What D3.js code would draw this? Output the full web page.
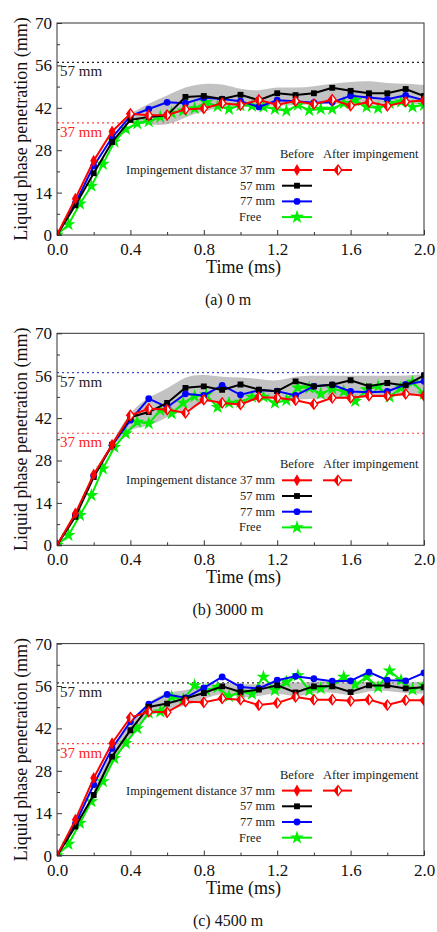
<!DOCTYPE html>
<html>
<head>
<meta charset="utf-8">
<script src="https://cdn.jsdelivr.net/npm/d3@7"></script>
<style>
body { margin: 0; background: #fff; }
svg { display: block; font-family: "Liberation Serif", "Times New Roman", serif; }
</style>
</head>
<body>
<div id="chart"></div>
<script>
// sampling times (ms)
const time10 = [0,0.1,0.2,0.3,0.4,0.5,0.6,0.7,0.8,0.9,1.0,1.1,1.2,1.3,1.4,1.5,1.6,1.7,1.8,1.9,2.0]
const timeFree = [0,0.0625,0.125,0.1875,0.25,0.3125,0.375,0.4375,0.5,0.5625,0.625,0.6875,0.75,0.8125,0.875,0.9375,1,
  1.0625,1.125,1.1875,1.25,1.3125,1.375,1.4375,1.5,1.5625,1.625,1.6875,1.75,1.8125,1.875,1.9375,2]

// (a) 0 m
const red0 = [0,12,24.5,34.2,40,39.5,39.6,41.5,41.8,43.5,42.9,44.6,43,44.2,43.2,44.7,42.7,43.9,42.6,44,44.4]
const black0 = [0,9.8,20.4,30.7,38,39,39.5,45.6,45.9,44.9,46.3,44.5,46.8,46.2,46.8,48.6,47.6,46.8,46.8,48.2,45.9]
const blue0 = [0,10.5,22.8,32.2,39.3,41.6,43.8,43.5,45.3,44.9,44.2,42.3,44.5,44.2,43.7,43.8,46,45.4,44.8,46.1,44.5]
const free0 = [0,3.5,10.3,16.2,23.4,30.8,35,36.8,37.5,39,40.3,41,41.8,43.8,42.5,41.6,42.8,
  42.6,42.3,41.6,41,42.9,41.2,41.6,41.6,43.5,44.5,42.3,41.9,43.5,44,42.3,42.9]
const bandT0 = [0.4,0.5,0.6,0.7,0.8,0.9,1.0,1.1,1.2,1.3,1.4,1.5,1.6,1.7,1.8,1.9,2.0]
const bandHi0 = [40,43.5,46,49,50,50,48,47.5,49,48.5,49,50,50.5,51,50,50,49.5]
const bandLo0 = [38.5,36.5,36,39,41,42,42.5,43,42.5,43,43,43.5,43,43,43,43.5,43]

// (b) 3000 m
const red1 = [0,10.5,23.4,33.2,42.9,45.1,44.8,43.7,48.1,47,46.5,48.9,48.7,47.9,46.6,48.7,48.7,49.4,49.3,50,49.4]
const black1 = [0,9.4,22.5,33.2,42.3,44,47,52,52.5,51.3,53.1,51.4,50.9,54.1,52.5,53,54.5,52.5,53.6,52.8,56.1]
const blue1 = [0,10,23,33,41.3,48.4,45.6,50,49.5,52.8,49.7,51.2,50.9,49.5,52.5,53,50.8,50.5,50.8,53.1,54.2]
const free1 = [0,3.3,9.9,16.5,25.3,32.4,36.9,40.7,40.2,44.6,43.5,47,49.2,49.7,45.6,47,47.3,
  49,49,47,47.9,52,52,50,51.7,50.8,47.6,51.4,52.5,49,52,53.9,50]
const bandT1 = [0.3,0.4,0.5,0.6,0.7,0.8,0.9,1.0,1.1,1.2,1.3,1.4,1.5,1.6,1.7,1.8,1.9,2.0]
const bandHi1 = [34,44.5,49,51.5,56,56.5,55.5,55.5,55,54,56,56,56,56,56,56,56,56.5]
const bandLo1 = [32.5,39,39,42.5,44.5,47.5,47.5,47,48.5,48.5,48,48.5,48.5,48.5,49,49,49.5,49.5]

// (c) 4500 m
const red2 = [0,11.8,25.6,37.1,45.6,47.5,47.3,50.8,50.6,51.9,51.5,49.7,50.4,52.4,51.5,51.5,51.1,51.5,49.7,51.3,51.3]
const black2 = [0,9.6,20,32.7,41.4,49.1,50.2,51.9,53.7,55.9,54,54.8,56.2,53.9,55.9,55.9,54,56.2,56.2,55.2,55.6]
const blue2 = [0,10.5,23.4,35.4,44.2,50,53.2,52.1,55.4,59,55.7,55.2,57.9,59.2,58.4,57.6,57.7,60.6,57.9,57.7,60.3]
const free2 = [0,3.8,10.7,17.9,24.5,32.1,37.1,42,47.1,47.5,52.4,51.5,56.2,54.6,55.6,52.6,54,
  53.4,59,54.6,57.3,59.5,54.5,55.2,56.5,59,56.5,59,55.6,61,57.9,54.8,56.2]
const bandT2 = [0.2,0.3,0.4,0.5,0.6,0.7,0.8,0.9,1.0,1.1,1.2,1.3,1.4,1.5,1.6,1.7,1.8,1.9,2.0]
const bandHi2 = [22,35,44,51,54,54.5,56,57.5,56.5,56.5,57.5,57,57.5,57.5,57,57.5,57.5,57,57.5]
const bandLo2 = [18,30.5,39,47,48,49.5,51.5,54,52,52.5,54,52,54,54,52.5,54.5,54.5,53.5,53.5]

const captions = ["(a) 0 m", "(b) 3000 m", "(c) 4500 m"]
const refLines = [37, 57]
const yTicks = [0,14,28,42,56,70]
const xTicks = [0,0.4,0.8,1.2,1.6,2.0]
const impingeTime = 0.3   // last "before impingement" point for 37 mm

const panels = [
  {red: red0, black: black0, blue: blue0, free: free0, bt: bandT0, hi: bandHi0, lo: bandLo0, ref57: "#222"},
  {red: red1, black: black1, blue: blue1, free: free1, bt: bandT1, hi: bandHi1, lo: bandLo1, ref57: "#4a4ad0"},
  {red: red2, black: black2, blue: blue2, free: free2, bt: bandT2, hi: bandHi2, lo: bandLo2, ref57: "#222"}
]

const W = 437, H = 932
const margin = {left: 57, top: 23}
const width = 367, height = 212
const step = 310.3

const svg = d3.select("#chart").append("svg")
  .attr("width", W).attr("height", H)

const x = d3.scaleLinear().domain([0, 2]).range([0, width])
const y = d3.scaleLinear().domain([0, 70]).range([height, 0])

const line = d3.line().x(d => x(d[0])).y(d => y(d[1]))
const area = d3.area().curve(d3.curveBasis)
  .x(d => x(d[0])).y0(d => y(d[1])).y1(d => y(d[2]))

const sym = {
  diamond: d3.symbol().type(d3.symbolDiamond).size(42),
  square: d3.symbol().type(d3.symbolSquare).size(34),
  circle: d3.symbol().type(d3.symbolCircle).size(36),
  star: d3.symbol().type(d3.symbolStar).size(60)
}

// open diamond with red left half
function afterMarker(g, cx, cy) {
  const r = 5
  g.append("path")
    .attr("d", `M${cx},${cy-r}L${cx+r*0.75},${cy}L${cx},${cy+r}L${cx-r*0.75},${cy}Z`)
    .attr("fill", "#fff").attr("stroke", "#f00").attr("stroke-width", 1.3)
  g.append("path")
    .attr("d", `M${cx},${cy-r}L${cx},${cy+r}L${cx-r*0.75},${cy}Z`)
    .attr("fill", "#f00")
}

panels.forEach((p, i) => {
  const top = margin.top + i * step
  const g = svg.append("g").attr("transform", `translate(${margin.left},${top})`)

  g.append("clipPath").attr("id", "clip" + i)
    .append("rect").attr("width", width).attr("height", height)
  const plot = g.append("g").attr("clip-path", `url(#clip${i})`)

  // reference distances
  plot.append("line")
    .attr("x1", 0).attr("x2", width).attr("y1", y(refLines[0])).attr("y2", y(refLines[0]))
    .attr("stroke", "#f44").attr("stroke-width", 1.2).attr("stroke-dasharray", "2,3")
  plot.append("line")
    .attr("x1", 0).attr("x2", width).attr("y1", y(refLines[1])).attr("y2", y(refLines[1]))
    .attr("stroke", p.ref57).attr("stroke-width", 1.2).attr("stroke-dasharray", "2,3")
  g.append("text").attr("x", 3).attr("y", y(refLines[1]) + 14)
    .attr("font-size", 15).attr("fill", "#222").text("57 mm")
  g.append("text").attr("x", 3).attr("y", y(refLines[0]) + 14)
    .attr("font-size", 15).attr("fill", "#f22").text("37 mm")

  // scatter band
  plot.append("path")
    .datum(p.bt.map((t, k) => [t, p.lo[k], p.hi[k]]))
    .attr("d", area)
    .attr("fill", "#a8a8a8").attr("opacity", 0.7)

  const series = [
    {vals: p.free, ts: timeFree, color: "#00ee00", shape: "star"},
    {vals: p.blue, ts: time10, color: "#0000ff", shape: "circle"},
    {vals: p.black, ts: time10, color: "#000", shape: "square"},
    {vals: p.red, ts: time10, color: "#ff0000", shape: "diamond"}
  ]
  series.forEach(s => {
    const pts = s.vals.map((v, k) => [s.ts[k], v])
    plot.append("path").datum(pts).attr("d", line)
      .attr("fill", "none").attr("stroke", s.color).attr("stroke-width", 2)
    pts.forEach(d => {
      if (s.shape === "diamond" && d[0] > impingeTime + 0.01) {
        afterMarker(plot, x(d[0]), y(d[1]))
      } else {
        plot.append("path").attr("d", sym[s.shape]())
          .attr("transform", `translate(${x(d[0])},${y(d[1])})`)
          .attr("fill", s.color)
      }
    })
  })

  // frame
  g.append("rect").attr("width", width).attr("height", height)
    .attr("fill", "none").attr("stroke", "#333").attr("stroke-width", 1)

  // axes with inward ticks
  const xAxis = g.append("g").attr("transform", `translate(0,${height})`)
    .call(d3.axisBottom(x).tickValues(xTicks).tickFormat(d3.format(".1f"))
      .tickSizeInner(-5).tickSizeOuter(0).tickPadding(8))
  g.append("g").attr("transform", `translate(0,${height})`)
    .call(d3.axisBottom(x).tickValues([0.2,0.6,1.0,1.4,1.8]).tickFormat("")
      .tickSizeInner(-3).tickSizeOuter(0))
  const yAxis = g.append("g")
    .call(d3.axisLeft(y).tickValues(yTicks).tickSizeInner(-5).tickSizeOuter(0).tickPadding(5))
  g.append("g")
    .call(d3.axisLeft(y).tickValues([7,21,35,49,63]).tickFormat("").tickSizeInner(-3).tickSizeOuter(0))
  g.selectAll(".domain").remove()
  g.selectAll(".tick line").attr("stroke", "#333")
  g.selectAll(".tick text").attr("font-size", 17).attr("fill", "#111")
    .attr("font-family", "Liberation Serif, serif")

  // axis titles
  g.append("text").attr("x", width / 2 + 3).attr("y", height + 38)
    .attr("text-anchor", "middle").attr("font-size", 18).attr("fill", "#111")
    .text("Time (ms)")
  g.append("text")
    .attr("transform", `translate(${-30},${height / 2}) rotate(-90)`)
    .attr("text-anchor", "middle").attr("font-size", 18).attr("fill", "#111")
    .text("Liquid phase penetration (mm)")

  // legend
  const lg = g.append("g")
  lg.append("text").attr("x", 240).attr("y", 135).attr("text-anchor", "middle")
    .attr("font-size", 12.5).attr("fill", "#222").text("Before")
  lg.append("text").attr("x", 266).attr("y", 135)
    .attr("font-size", 12.5).attr("fill", "#222").text("After impingement")
  const rows = [
    {label: "Impingement distance 37 mm", color: "#ff0000", shape: "diamond"},
    {label: "57 mm", color: "#000", shape: "square"},
    {label: "77 mm", color: "#0000ff", shape: "circle"},
    {label: "Free", color: "#00ee00", shape: "star"}
  ]
  rows.forEach((r, k) => {
    const by = 151 + k * 15.7
    const txt = lg.append("text").attr("y", by).attr("font-size", 12.5).attr("fill", "#222").text(r.label)
    if (r.label === "Free") txt.attr("x", 182)
    else txt.attr("x", 218).attr("text-anchor", "end")
    lg.append("line").attr("x1", 225).attr("x2", 255).attr("y1", by - 4).attr("y2", by - 4)
      .attr("stroke", r.color).attr("stroke-width", 2)
    lg.append("path").attr("d", sym[r.shape]()).attr("transform", `translate(240,${by - 4})`)
      .attr("fill", r.color)
    if (k === 0) {
      lg.append("line").attr("x1", 266).attr("x2", 295).attr("y1", by - 4).attr("y2", by - 4)
        .attr("stroke", r.color).attr("stroke-width", 2)
      afterMarker(lg, 281, by - 4)
    }
  })

  // caption
  svg.append("text").attr("x", 228).attr("y", top + height + 70)
    .attr("text-anchor", "middle").attr("font-size", 16).attr("fill", "#111")
    .text(captions[i])
})
</script>
</body>
</html>
